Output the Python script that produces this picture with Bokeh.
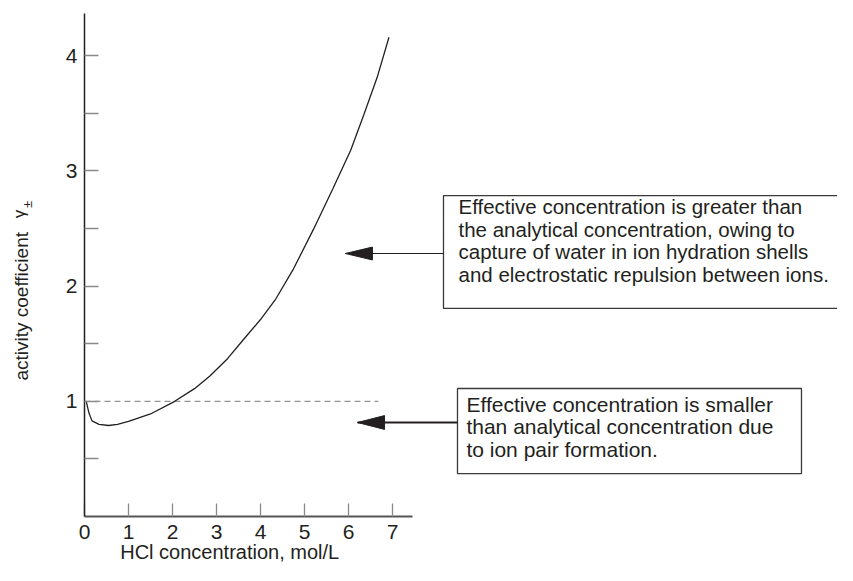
from bokeh.plotting import figure
from bokeh.models import Range1d, FixedTicker
from bokeh.core.properties import value
from bokeh.embed import file_html
from bokeh.resources import INLINE

# ---- data ----
conc = [0.04, 0.1, 0.17, 0.33, 0.55, 0.75, 1.0, 1.5, 2.05, 2.5, 2.85, 3.25,
        3.6, 4.0, 4.35, 4.75, 5.2, 5.65, 6.05, 6.35, 6.65, 6.92]
gamma = [1.0, 0.9, 0.83, 0.80, 0.79, 0.80, 0.825, 0.89, 1.0, 1.11, 1.22, 1.37,
         1.53, 1.71, 1.89, 2.15, 2.49, 2.85, 3.18, 3.49, 3.81, 4.16]
x_ticks = [0, 1, 2, 3, 4, 5, 6, 7]
y_ticks = [1, 2, 3, 4]
y_minor_ticks = [0.5, 1.5, 2.5, 3.5]
ref_x = [0.0, 6.68]
ref_y = [1.0, 1.0]
x_axis_end = 7.45
y_axis_end = 4.37

notes = [
    "Effective concentration is greater than\nthe analytical concentration, owing  to\n"
    "capture of water in ion hydration shells\nand electrostatic repulsion between ions.",
    "Effective concentration is smaller\nthan analytical concentration due\nto ion pair formation.",
]
note_size = ["20.5px", "21px"]
box_left = [8.159, 8.477]
box_right = [17.6, 16.295]
box_top = [2.786, 1.111]
box_bottom = [1.806, 0.373]
note_x = [8.50, 8.68]
note_y = [2.79, 1.076]
arrow_tip_x = [5.93, 6.205]
arrow_y = [2.283, 0.816]
arrow_lw = [1.2, 2.2]
head_len = 0.614           # x units (about 27 px)
head_half = [0.056, 0.06]  # y units

x_label = ["HCl concentration, mol/L"]
x_label_x = [3.3]
x_label_y = [-0.31]
y_label = ["activity coefficient"]
y_label_x = [-1.43]
y_label_y = [1.18]
gamma_sym_x = [-1.47]
gamma_sym_y = [2.625]
pm_sym_x = [-1.30]
pm_sym_y = [2.71]

INK = "#231f20"
FONT = "Liberation Sans"

# frame spans the whole canvas; axes sit at fixed data locations
p = figure(width=837, height=565,
           x_range=Range1d(-1.9091, 17.1136), y_range=Range1d(-0.4253, 4.4792),
           output_backend="svg", toolbar_location=None,
           min_border_left=0, min_border_right=0, min_border_top=0, min_border_bottom=0)
p.outline_line_color = None
p.xgrid.visible = False
p.ygrid.visible = False
p.background_fill_color = "white"
p.border_fill_color = "white"

xa = p.xaxis[0]
xa.fixed_location = 0
xa.bounds = (0, x_axis_end)
xa.ticker = FixedTicker(ticks=x_ticks)
xa.major_tick_in = 13
xa.major_tick_out = 0
xa.minor_tick_line_color = None
xa.major_tick_line_color = "#8a8a8a"
xa.major_tick_line_width = 1.3
xa.axis_line_color = "#555555"
xa.axis_line_width = 2
xa.major_label_text_font = FONT
xa.major_label_text_font_size = "21px"
xa.major_label_text_color = INK
xa.major_label_standoff = 8

ya = p.yaxis[0]
ya.fixed_location = 0
ya.bounds = (0, y_axis_end)
ya.ticker = FixedTicker(ticks=y_ticks, minor_ticks=y_minor_ticks)
ya.major_tick_in = 14
ya.major_tick_out = 0
ya.minor_tick_in = 14
ya.minor_tick_out = 0
ya.major_tick_line_color = "#8a8a8a"
ya.minor_tick_line_color = "#8a8a8a"
ya.major_tick_line_width = 1.3
ya.minor_tick_line_width = 1.3
ya.axis_line_color = INK
ya.axis_line_width = 1.5
ya.major_label_text_font = FONT
ya.major_label_text_font_size = "21px"
ya.major_label_text_color = INK
ya.major_label_standoff = 7

# reference line at gamma = 1
p.line(ref_x, ref_y, line_color="#7a7a7a", line_width=1, line_dash="6 4")
# activity coefficient curve
p.line(conc, gamma, line_color=INK, line_width=1.3)

# annotation boxes
p.quad(left=box_left, right=box_right, top=box_top, bottom=box_bottom,
       fill_color="white", line_color="#3a3a3a", line_width=1.3)
p.text(x=note_x, y=note_y, text=notes, text_font=value(FONT), text_font_size=note_size,
       text_color=INK, text_align="left", text_baseline="top", text_line_height=0.98)

# arrows: shaft + long narrow head
p.segment(x0=arrow_tip_x, y0=arrow_y, x1=box_left, y1=arrow_y, line_color=INK,
          line_width=arrow_lw)
head_xs = [[tx, tx + head_len, tx + head_len] for tx in arrow_tip_x]
head_ys = [[ty, ty + hh, ty - hh] for ty, hh in zip(arrow_y, head_half)]
p.patches(head_xs, head_ys, fill_color=INK, line_color=INK, line_width=1)

# axis titles
p.text(x=x_label_x, y=x_label_y, text=x_label, text_font=value(FONT), text_font_size="20px",
       text_color=INK, text_align="center", text_baseline="middle")
p.text(x=y_label_x, y=y_label_y, text=y_label, text_font=value(FONT), text_font_size="19px",
       text_color=INK, text_align="left", text_baseline="middle", angle=1.5708)
p.text(x=gamma_sym_x, y=gamma_sym_y, text=["\u03b3"], text_font=value(FONT), text_font_size="17px",
       text_color=INK, text_align="center", text_baseline="middle", angle=1.5708)
p.text(x=pm_sym_x, y=pm_sym_y, text=["\u00b1"], text_font=value(FONT), text_font_size="13px",
       text_color=INK, text_align="center", text_baseline="middle", angle=1.5708)

open("out.html", "w").write(file_html(p, INLINE))
